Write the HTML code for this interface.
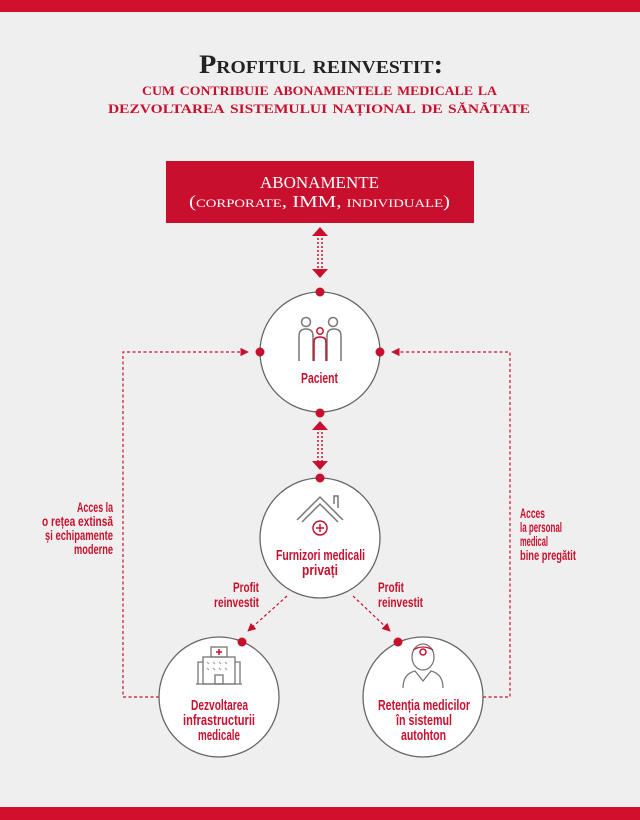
<!DOCTYPE html>
<html><head><meta charset="utf-8"><style>
html,body{margin:0;padding:0;background:#efefef;}
svg{display:block;}
.t{font-family:"Liberation Sans Narrow","Liberation Sans",sans-serif;font-weight:bold;fill:#c8102e;}
.s{font-family:"Liberation Serif",serif;font-variant:small-caps;}
</style></head><body>
<svg width="640" height="820" viewBox="0 0 640 820" xmlns="http://www.w3.org/2000/svg">
<defs>
<marker id="ah" viewBox="0 0 10 10" refX="9" refY="5" markerWidth="7" markerHeight="7" orient="auto-start-reverse"><path d="M0,0 L10,5 L0,10 z" fill="#c8102e"/></marker>
</defs>
<rect width="640" height="820" fill="#efefef"/>
<rect x="0" y="0" width="640" height="12" fill="#d1102d"/>
<rect x="0" y="807" width="640" height="13" fill="#d1102d"/>

<text x="199" y="73" textLength="244" lengthAdjust="spacingAndGlyphs" class="s" font-size="26" font-weight="bold" fill="#222">Profitul reinvestit:</text>
<text x="142" y="95" textLength="355" lengthAdjust="spacingAndGlyphs" class="s" font-size="18" font-weight="bold" fill="#c8102e">cum contribuie abonamentele medicale la</text>
<text x="108" y="113" textLength="422" lengthAdjust="spacingAndGlyphs" class="s" font-size="18" font-weight="bold" fill="#c8102e">dezvoltarea sistemului național de sănătate</text>

<rect x="166" y="161" width="308" height="62" fill="#c8102e"/>
<text x="260" y="188" textLength="119" lengthAdjust="spacingAndGlyphs" class="s" font-size="17" fill="#fff">ABONAMENTE</text>
<text x="189" y="207" textLength="261" lengthAdjust="spacingAndGlyphs" class="s" font-size="17" fill="#fff">(corporate, IMM, individuale)</text>

<g stroke="#c8102e" stroke-width="1.5" stroke-dasharray="2,2" fill="none">
<line x1="318" y1="234" x2="318" y2="270"/><line x1="322" y1="234" x2="322" y2="270"/>
<line x1="318" y1="428" x2="318" y2="462"/><line x1="322" y1="428" x2="322" y2="462"/>
</g>
<g fill="#c8102e">
<path d="M312,236 L320,227 L328,236z"/><path d="M312,269 L320,278 L328,269z"/>
<path d="M312,430 L320,421 L328,430z"/><path d="M312,461 L320,470 L328,461z"/>
</g>

<g stroke="#c8102e" stroke-width="1.2" stroke-dasharray="3,2.5" fill="none">
<polyline points="159,697 123,697 123,352 248,352" marker-end="url(#ah)"/>
<polyline points="483,697 510,697 510,352 392,352" marker-end="url(#ah)"/>
<line x1="287" y1="596" x2="248" y2="631" marker-end="url(#ah)"/>
<line x1="353" y1="596" x2="390" y2="631" marker-end="url(#ah)"/>
</g>

<g fill="#fff" stroke="#666" stroke-width="1.3">
<circle cx="320" cy="352" r="60"/>
<circle cx="320" cy="538" r="60"/>
<circle cx="219" cy="697" r="60"/>
<circle cx="423" cy="697" r="60"/>
</g>
<g fill="#c8102e">
<circle cx="320" cy="292" r="4.5"/><circle cx="320" cy="413" r="4.5"/>
<circle cx="260" cy="352" r="4.5"/><circle cx="380" cy="352" r="4.5"/>
<circle cx="320" cy="478" r="4.5"/>
<circle cx="242" cy="642" r="4.5"/><circle cx="398" cy="642" r="4.5"/>
</g>

<g fill="none" stroke="#777" stroke-width="1.5">
<circle cx="306" cy="322" r="4.5"/><circle cx="333" cy="322" r="4.5"/>
<path d="M299,361 V336 q0,-7 7,-7 q7,0 7,7 v25"/>
<path d="M327,361 V336 q0,-7 7,-7 q7,0 7,7 v25"/>
</g>
<g fill="none" stroke="#c8102e" stroke-width="1.5">
<circle cx="320" cy="331" r="3.2"/><path d="M314,361 V342 q0,-5 6,-5 q6,0 6,5 V361"/>
</g>
<text x="301" y="383" textLength="37" lengthAdjust="spacingAndGlyphs" class="t" font-size="15">Pacient</text>

<g fill="none" stroke="#777" stroke-width="1.5">
<path d="M297,520 L320,497 L343,520 M302,522 L320,504 L338,522"/>
<path d="M334,504 v-8 h4 v12"/>
</g>
<circle cx="320" cy="528" r="7" fill="none" stroke="#c8102e" stroke-width="1.5"/>
<path d="M316,528 h8 M320,524 v8" stroke="#c8102e" stroke-width="1.5"/>
<text x="276" y="560" textLength="89" lengthAdjust="spacingAndGlyphs" class="t" font-size="15">Furnizori medicali</text>
<text x="302" y="575" textLength="36" lengthAdjust="spacingAndGlyphs" class="t" font-size="15">privați</text>

<g fill="none" stroke="#777" stroke-width="1.3">
<rect x="211" y="647" width="16" height="10"/>
<rect x="203" y="657" width="32" height="27"/>
<path d="M198,684 V662 h5 M240,684 V662 h-5 M196,684 h46"/>
<rect x="215" y="675" width="8" height="9"/>
</g>
<path d="M219,649 v6 M216,652 h6" stroke="#c8102e" stroke-width="1.5"/>
<g stroke="#999" stroke-width="1"><path d="M207,662 l2,2 M213,662 l2,2 M219,662 l2,2 M225,662 l2,2 M207,668 l2,2 M213,668 l2,2 M219,668 l2,2 M225,668 l2,2"/></g>
<text x="191" y="710" textLength="57" lengthAdjust="spacingAndGlyphs" class="t" font-size="15">Dezvoltarea</text>
<text x="183" y="725" textLength="72" lengthAdjust="spacingAndGlyphs" class="t" font-size="15">infrastructurii</text>
<text x="198" y="740" textLength="42" lengthAdjust="spacingAndGlyphs" class="t" font-size="15">medicale</text>

<g fill="none" stroke="#777" stroke-width="1.3">
<ellipse cx="423" cy="657" rx="11" ry="13"/>
<path d="M403,688 q0,-14 12,-17 l8,10 l8,-10 q12,3 12,17"/>
</g>
<circle cx="423" cy="652" r="3" fill="none" stroke="#c8102e" stroke-width="1.5"/>
<path d="M413,650 q10,-6 20,0" stroke="#c8102e" stroke-width="1.2" fill="none"/>
<text x="378" y="710" textLength="92" lengthAdjust="spacingAndGlyphs" class="t" font-size="15">Retenția medicilor</text>
<text x="396" y="725" textLength="56" lengthAdjust="spacingAndGlyphs" class="t" font-size="15">în sistemul</text>
<text x="401" y="740" textLength="45" lengthAdjust="spacingAndGlyphs" class="t" font-size="15">autohton</text>

<g class="t" font-size="13.5" lengthAdjust="spacingAndGlyphs">
<text x="233" y="592" textLength="26" lengthAdjust="spacingAndGlyphs">Profit</text>
<text x="214" y="607" textLength="45" lengthAdjust="spacingAndGlyphs">reinvestit</text>
<text x="378" y="592" textLength="26" lengthAdjust="spacingAndGlyphs">Profit</text>
<text x="378" y="607" textLength="45" lengthAdjust="spacingAndGlyphs">reinvestit</text>
<text x="77" y="512" textLength="36" lengthAdjust="spacingAndGlyphs">Acces la</text>
<text x="42" y="526" textLength="71" lengthAdjust="spacingAndGlyphs">o rețea extinsă</text>
<text x="45" y="540" textLength="68" lengthAdjust="spacingAndGlyphs">și echipamente</text>
<text x="74" y="554" textLength="39" lengthAdjust="spacingAndGlyphs">moderne</text>
<text x="520" y="518" textLength="25" lengthAdjust="spacingAndGlyphs">Acces</text>
<text x="520" y="532" textLength="42" lengthAdjust="spacingAndGlyphs">la personal</text>
<text x="520" y="546" textLength="28" lengthAdjust="spacingAndGlyphs">medical</text>
<text x="520" y="560" textLength="56" lengthAdjust="spacingAndGlyphs">bine pregătit</text>
</g>
</svg>
</body></html>
